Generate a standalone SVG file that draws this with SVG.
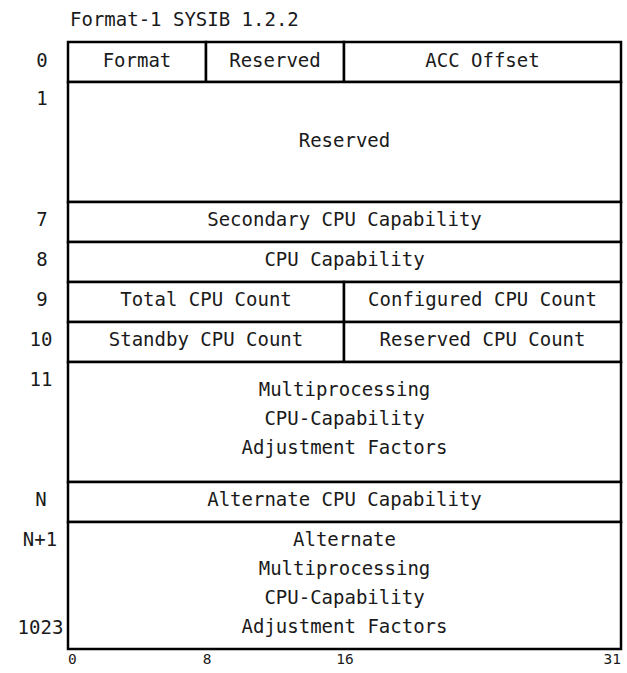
<svg xmlns="http://www.w3.org/2000/svg" width="627" height="673" viewBox="0 0 627 673">
<style>
  .cell { fill: #ffffff; stroke: #000000; stroke-width: 2.5; }
  .t { font-family: "DejaVu Sans Mono", "Liberation Mono", monospace; font-size: 19px; fill: #1a1a1a; text-anchor: middle; }
  .lbl { font-family: "DejaVu Sans Mono", "Liberation Mono", monospace; font-size: 19px; fill: #1a1a1a; text-anchor: middle; }
  .ax { font-family: "DejaVu Sans Mono", "Liberation Mono", monospace; font-size: 14.5px; fill: #1a1a1a; }
</style>
<rect width="627" height="673" fill="#ffffff"/>
<text x="70" y="26" class="t" style="text-anchor:start">Format-1 SYSIB 1.2.2</text>

<g id="row0">
  <rect class="cell" x="68" y="42" width="138" height="40"/>
  <rect class="cell" x="206" y="42" width="138" height="40"/>
  <rect class="cell" x="344" y="42" width="277" height="40"/>
  <text class="t" x="137" y="67">Format</text>
  <text class="t" x="275" y="67">Reserved</text>
  <text class="t" x="482.5" y="67">ACC Offset</text>
  <text class="lbl" x="42" y="67">0</text>
</g>
<g id="row1">
  <rect class="cell" x="68" y="82" width="553" height="120"/>
  <text class="t" x="344.5" y="147">Reserved</text>
  <text class="lbl" x="42" y="105">1</text>
</g>
<g id="row7">
  <rect class="cell" x="68" y="202" width="553" height="40"/>
  <text class="t" x="344.5" y="226">Secondary CPU Capability</text>
  <text class="lbl" x="42" y="226">7</text>
</g>
<g id="row8">
  <rect class="cell" x="68" y="242" width="553" height="40"/>
  <text class="t" x="344.5" y="266">CPU Capability</text>
  <text class="lbl" x="42" y="266">8</text>
</g>
<g id="row9">
  <rect class="cell" x="68" y="282" width="276" height="40"/>
  <rect class="cell" x="344" y="282" width="277" height="40"/>
  <text class="t" x="206" y="306">Total CPU Count</text>
  <text class="t" x="482.5" y="306">Configured CPU Count</text>
  <text class="lbl" x="42" y="306">9</text>
</g>
<g id="row10">
  <rect class="cell" x="68" y="322" width="276" height="40"/>
  <rect class="cell" x="344" y="322" width="277" height="40"/>
  <text class="t" x="206" y="346">Standby CPU Count</text>
  <text class="t" x="482.5" y="346">Reserved CPU Count</text>
  <text class="lbl" x="41" y="346">10</text>
</g>
<g id="row11">
  <rect class="cell" x="68" y="362" width="553" height="120"/>
  <text class="t" x="344.5" y="396">Multiprocessing</text>
  <text class="t" x="344.5" y="425">CPU-Capability</text>
  <text class="t" x="344.5" y="454">Adjustment Factors</text>
  <text class="lbl" x="41" y="386">11</text>
</g>
<g id="rowN">
  <rect class="cell" x="68" y="482" width="553" height="40"/>
  <text class="t" x="344.5" y="506">Alternate CPU Capability</text>
  <text class="lbl" x="41" y="506">N</text>
</g>
<g id="rowN1">
  <rect class="cell" x="68" y="522" width="553" height="127"/>
  <text class="t" x="344.5" y="546">Alternate</text>
  <text class="t" x="344.5" y="575">Multiprocessing</text>
  <text class="t" x="344.5" y="604">CPU-Capability</text>
  <text class="t" x="344.5" y="633">Adjustment Factors</text>
  <text class="lbl" x="40" y="546">N+1</text>
  <text class="lbl" x="40.5" y="634">1023</text>
</g>
<g id="connectors"></g>
<g id="axis">
  <text class="ax" x="68" y="664">0</text>
  <text class="ax" x="207" y="664" text-anchor="middle">8</text>
  <text class="ax" x="345" y="664" text-anchor="middle">16</text>
  <text class="ax" x="621" y="664" text-anchor="end">31</text>
</g>
</svg>
